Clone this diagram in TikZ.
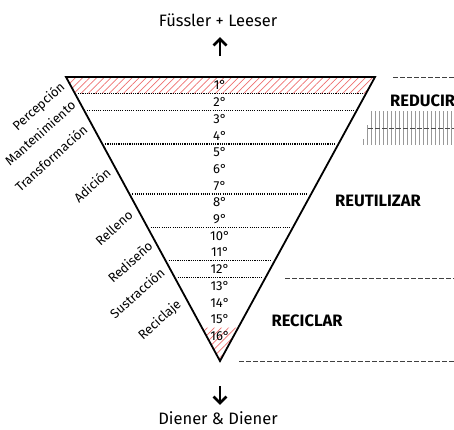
\documentclass[tikz,border=0pt]{standalone}
\usepackage{fontspec}
\setmainfont{Fira Sans}
\usetikzlibrary{calc,arrows.meta,patterns.meta}
\definecolor{hatchred}{HTML}{EE7070}
\tikzset{
  edge/.style={line width=1.8pt, line join=miter},
  sep/.style={line width=1.4pt, dash pattern=on 1.1pt off 1.1pt},
  rowlbl/.style={font=\fontsize{13}{13}\selectfont, inner sep=0pt},
  sidelbl/.style={font=\fontsize{13}{13}\selectfont, rotate=42, inner sep=0pt},
  biglbl/.style={font=\fontsize{16.5}{16.5}\selectfont\bfseries, inner sep=0pt},
  titlelbl/.style={font=\fontsize{16.5}{16.5}\selectfont, inner sep=0pt},
  dashline/.style={line width=0.9pt, draw=black!75, dash pattern=on 4.5pt off 2.5pt},
  hatch/.style={pattern={Lines[angle=45,distance=5pt,line width=0.7pt]}, pattern color=hatchred},
  arrowpart/.style={line width=2.6pt, line cap=butt, line join=miter},
  vline/.style={draw=black!40, line width=0.9pt}
}
\begin{document}
\begin{tikzpicture}[x=1pt,y=-1pt]
\useasboundingbox (0,0) rectangle (454,429);
\clip (0,0) rectangle (454,429);
\coordinate (A) at (66,77);
\coordinate (B) at (375,77);
\coordinate (C) at (220,361);
% top hatch
\fill[hatch] (A) -- (B) -- ($(B)!16.7/284!(C)$) -- ($(A)!16.7/284!(C)$) -- cycle;
% bottom hatch
\fill[hatch] ($(A)!250.5/284!(C)$) -- ($(B)!250.5/284!(C)$) -- (C) -- cycle;
% separators
\foreach \k in {1,2,4,7,9,11,12}{
  \pgfmathsetmacro{\t}{16.7*\k/284}
  \draw[sep] ($(A)!\t!(C)+(3,0)$) -- ($(B)!\t!(C)+(-3,0)$);
}
% triangle
\draw[edge] (A) -- (B) -- (C) -- cycle;
% row labels
\foreach \k in {1,...,16}{
  \node[rowlbl] (r\k) at (220,{77+16.7*(\k-0.5)}) {\k°};
}
% side labels
\node[sidelbl] (l1) at (39,107) {Percepción};
\node[sidelbl] (l2) at (40,133) {Mantenimiento};
\node[sidelbl] (l3) at (51,158) {Transformación};
\node[sidelbl] (l4) at (92,185) {Adición};
\node[sidelbl] (l5) at (114,228) {Relleno};
\node[sidelbl] (l6) at (130,262) {Rediseño};
\node[sidelbl] (l7) at (137,293) {Sustracción};
\node[sidelbl] (l8) at (160,320) {Reciclaje};
% titles and arrows
\node[titlelbl] (top) at (218,20) {Füssler + Leeser};
\node[titlelbl] (bot) at (218,418) {Diener \& Diener};
\coordinate (ua) at (220,56);
\coordinate (ub) at (220,39);
\coordinate (da) at (220,386);
\coordinate (db) at (220,403);
\draw[arrowpart] (ua) -- (ub);
\draw[arrowpart] ($(ub)+(-6.5,6.5)$) -- (ub) -- ($(ub)+(6.5,6.5)$);
\draw[arrowpart] (da) -- (db);
\draw[arrowpart] ($(db)+(-6.5,-6.5)$) -- (db) -- ($(db)+(6.5,-6.5)$);
% right side
\coordinate (d1a) at (393,77);  \coordinate (d1b) at (454,77);
\coordinate (d2a) at (285,278); \coordinate (d2b) at (454,278);
\coordinate (d3a) at (239,361); \coordinate (d3b) at (454,361);
\draw[dashline] (d1a) -- (d1b);
\draw[dashline] (d2a) -- (d2b);
\draw[dashline] (d3a) -- (d3b);
\node[biglbl, anchor=west] (reducir) at (390,101) {REDUCIR};
\node[biglbl] (reutilizar) at (378,201) {REUTILIZAR};
\node[biglbl] (reciclar) at (307,321) {RECICLAR};
% vertical line pattern
\draw[vline] (363,139) -- (363,145);
\draw[vline] (367,125) -- (367,145);
\foreach \i in {0,...,21}{
  \draw[vline] ({371+4*\i},111) -- ({371+4*\i},145);
}
\coordinate (ha) at (368,128); \coordinate (hb) at (454,128);
\draw[draw=black!70, line width=0.8pt, dash pattern=on 5pt off 2pt] (ha) -- (hb);
\end{tikzpicture}
\end{document}
